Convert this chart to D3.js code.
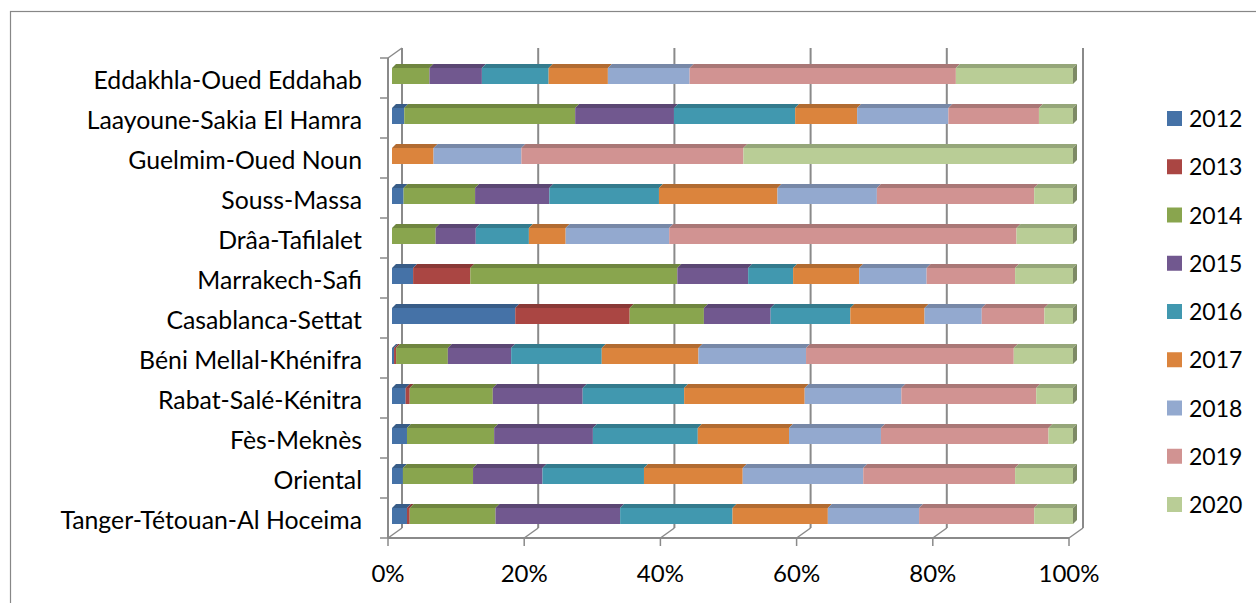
<!DOCTYPE html>
<html>
<head>
<meta charset="utf-8">
<script src="https://cdn.jsdelivr.net/npm/d3@7"></script>
<style>
  body { margin: 0; background: #fff; }
  text { font-family: Lato, "Open Sans", sans-serif; fill: #000; }
</style>
</head>
<body>
<script>
// regions, top to bottom as in the chart
const categories = [
  "Eddakhla-Oued Eddahab",
  "Laayoune-Sakia El Hamra",
  "Guelmim-Oued Noun",
  "Souss-Massa",
  "Drâa-Tafilalet",
  "Marrakech-Safi",
  "Casablanca-Settat",
  "Béni Mellal-Khénifra",
  "Rabat-Salé-Kénitra",
  "Fès-Meknès",
  "Oriental",
  "Tanger-Tétouan-Al Hoceima"
];

const years = ["2012", "2013", "2014", "2015", "2016", "2017", "2018", "2019", "2020"];

// share of each year (%), same order as categories
const v2012 = [0, 1.8, 0, 1.7, 0, 3.1, 18.1, 0.3, 2.0, 2.2, 1.6, 2.2];
const v2013 = [0, 0, 0, 0, 0, 8.4, 16.8, 0.3, 0.6, 0, 0, 0.4];
const v2014 = [5.5, 25.1, 0, 10.5, 6.4, 30.4, 10.9, 7.6, 12.2, 12.8, 10.3, 12.6];
const v2015 = [7.7, 14.5, 0, 10.9, 5.9, 10.4, 9.8, 9.3, 13.2, 14.5, 10.2, 18.3];
const v2016 = [9.8, 17.8, 0, 16.1, 7.8, 6.6, 11.7, 13.3, 14.9, 15.4, 14.9, 16.5];
const v2017 = [8.7, 9.1, 6.1, 17.4, 5.4, 9.7, 10.9, 14.2, 17.7, 13.4, 14.5, 14.0];
const v2018 = [12.0, 13.4, 12.9, 14.6, 15.2, 9.9, 8.4, 15.8, 14.2, 13.5, 17.7, 13.4];
const v2019 = [39.1, 13.3, 32.6, 23.1, 51.0, 13.0, 9.2, 30.5, 19.8, 24.6, 22.3, 16.9];
const v2020 = [17.2, 5.0, 48.4, 5.7, 8.3, 8.5, 4.2, 8.7, 5.4, 3.6, 8.5, 5.7];

const seriesValues = [v2012, v2013, v2014, v2015, v2016, v2017, v2018, v2019, v2020];

const xTicks = [0, 0.2, 0.4, 0.6, 0.8, 1];

const colors = ["#4572A7", "#AA4643", "#89A54E", "#71588F", "#4198AF",
                "#DB843D", "#93A9CF", "#D19392", "#B9CD96"];

const width = 1256, height = 603;

// 3d look: back wall offset and bar offset
const depthX = 14, depthY = 10;
const barDx = 4, barDy = 4;
const barH = 16;

const svg = d3.select("body")
  .append("svg")
  .attr("width", width)
  .attr("height", height);

svg.append("rect")
  .attr("x", 10.5)
  .attr("y", 11.5)
  .attr("width", 1400)
  .attr("height", 800)
  .attr("fill", "none")
  .attr("stroke", "#878787")
  .attr("stroke-width", 1.2);

const x = d3.scaleLinear().domain([0, 1]).range([388, 1069]);
const y = d3.scaleBand().domain(categories).range([58, 538]);

const table = categories.map((c, i) => {
  const row = { region: c };
  years.forEach((yr, k) => { row[yr] = seriesValues[k][i]; });
  return row;
});

const stacked = d3.stack()
  .keys(years)
  .offset(d3.stackOffsetExpand)(table);

const color = d3.scaleOrdinal().domain(years).range(colors);

// walls and floor
const grid = svg.append("g")
  .attr("stroke", "#8a8a8a")
  .attr("fill", "none");

const y0 = y.range()[0], y1 = y.range()[1];

xTicks.forEach((t) => {
  grid.append("line")
    .attr("x1", x(t) + depthX).attr("x2", x(t) + depthX)
    .attr("y1", y0 - depthY).attr("y2", y1 - depthY)
    .attr("stroke-width", 2);
  grid.append("line")
    .attr("x1", x(t)).attr("x2", x(t) + depthX)
    .attr("y1", y1).attr("y2", y1 - depthY)
    .attr("stroke-width", 1.5);
  grid.append("line")
    .attr("x1", x(t)).attr("x2", x(t))
    .attr("y1", y1).attr("y2", y1 + 8)
    .attr("stroke-width", 1.5);
});

grid.append("line")
  .attr("x1", x(0)).attr("x2", x(1))
  .attr("y1", y1).attr("y2", y1)
  .attr("stroke-width", 2);

grid.append("line")
  .attr("x1", x(0)).attr("x2", x(0))
  .attr("y1", y0).attr("y2", y1)
  .attr("stroke-width", 2);

grid.append("line")
  .attr("x1", x(0)).attr("x2", x(0) + depthX)
  .attr("y1", y0).attr("y2", y0 - depthY)
  .attr("stroke-width", 1.5);

const bounds = categories.map((c) => y(c)).concat([y1]);
bounds.forEach((b) => {
  grid.append("line")
    .attr("x1", x(0) - 8).attr("x2", x(0))
    .attr("y1", b).attr("y2", b)
    .attr("stroke-width", 1.5);
});

// bars
const bars = svg.append("g");

stacked.forEach((s, k) => {
  const c = colors[k];
  const g = bars.append("g");
  const segs = s.map((d, i) => ({ d: d, region: categories[i] }))
    .filter((e) => e.d[1] - e.d[0] > 0);

  const top = (e) => y(e.region) + y.bandwidth() / 2 - 10;

  g.selectAll("path.top")
    .data(segs)
    .enter()
    .append("path")
    .attr("fill", d3.color(c).darker(0.6))
    .attr("d", (e) => {
      const a = x(e.d[0]) + barDx, b = x(e.d[1]) + barDx, t = top(e);
      return `M${a},${t}L${b},${t}L${b + barDx},${t - barDy}L${a + barDx},${t - barDy}Z`;
    });

  g.selectAll("rect")
    .data(segs)
    .enter()
    .append("rect")
    .attr("x", (e) => x(e.d[0]) + barDx)
    .attr("y", top)
    .attr("width", (e) => x(e.d[1]) - x(e.d[0]))
    .attr("height", barH)
    .attr("fill", c);

  // right end side face only on the last series
  if (k === years.length - 1) {
    g.selectAll("path.side")
      .data(segs)
      .enter()
      .append("path")
      .attr("fill", d3.color(c).darker(1.1))
      .attr("d", (e) => {
        const b = x(e.d[1]) + barDx, t = top(e);
        return `M${b},${t}L${b + barDx},${t - barDy}L${b + barDx},${t - barDy + barH}L${b},${t + barH}Z`;
      });
  }
});

// category labels
svg.append("g")
  .selectAll("text")
  .data(categories)
  .enter()
  .append("text")
  .attr("x", 362)
  .attr("y", (c) => y(c) + y.bandwidth() / 2 + 11)
  .attr("text-anchor", "end")
  .attr("font-size", 24.8)
  .text((c) => c);

// x tick labels
svg.append("g")
  .selectAll("text")
  .data(xTicks)
  .enter()
  .append("text")
  .attr("x", (t) => x(t))
  .attr("y", 582)
  .attr("text-anchor", "middle")
  .attr("font-size", 24)
  .text(d3.format(".0%"));

// legend
const legend = svg.append("g")
  .selectAll("g")
  .data(years)
  .enter()
  .append("g")
  .attr("transform", (d, i) => `translate(1167,${118.5 + i * 48.25})`);

legend.append("rect")
  .attr("x", 0)
  .attr("y", -7.5)
  .attr("width", 15)
  .attr("height", 15)
  .attr("fill", (d) => color(d));

legend.append("text")
  .attr("x", 22)
  .attr("y", 8.5)
  .attr("font-size", 23)
  .text((d) => d);
</script>
</body>
</html>
